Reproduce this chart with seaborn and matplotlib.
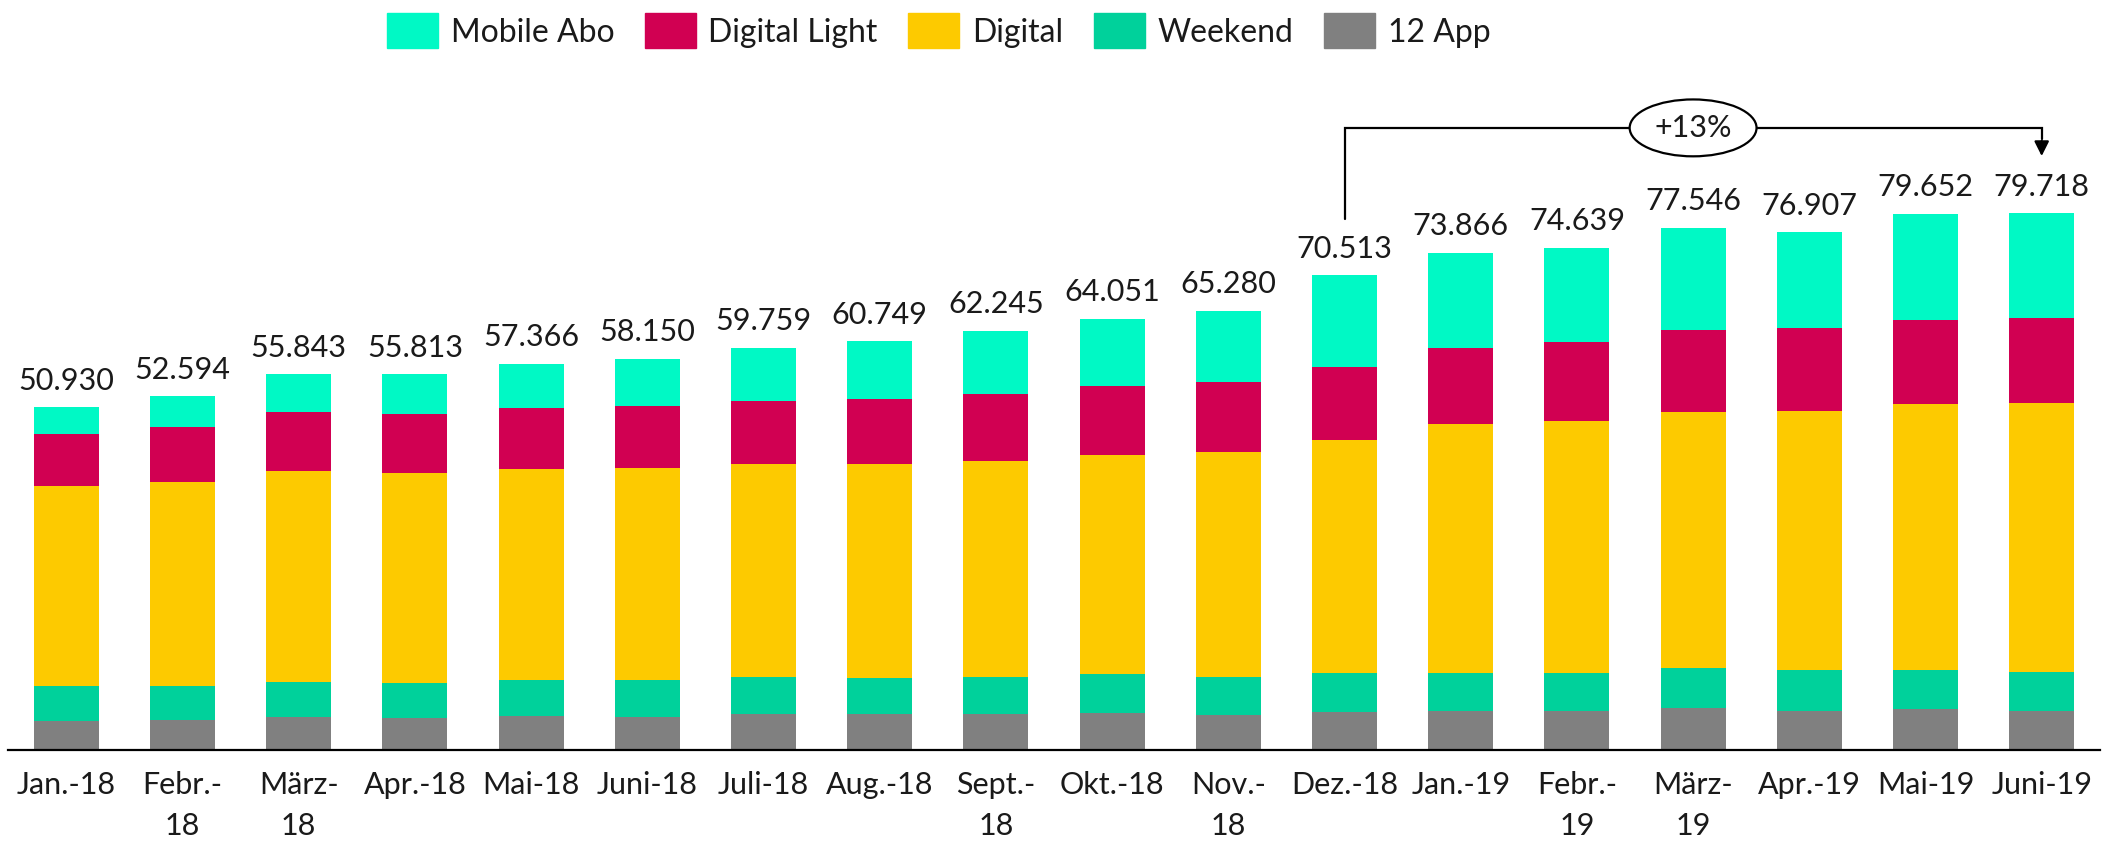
import numpy as np
import pandas as pd
import matplotlib
matplotlib.use("Agg")
import matplotlib.pyplot as plt
import matplotlib.patches as mpatches
import seaborn as sns

# Data (in thousands)
months = ["Jan.-18", "Febr.-\n18", "März-\n18", "Apr.-18", "Mai-18", "Juni-18",
          "Juli-18", "Aug.-18", "Sept.-\n18", "Okt.-18", "Nov.-\n18", "Dez.-18",
          "Jan.-19", "Febr.-\n19", "März-\n19", "Apr.-19", "Mai-19", "Juni-19"]
app_12 = [4.31, 4.41, 4.86, 4.71, 5.10, 4.95, 5.30, 5.36, 5.36, 5.56, 5.15, 5.60,
          5.75, 5.75, 6.29, 5.84, 6.05, 5.84]
weekend = [5.25, 5.14, 5.29, 5.20, 5.30, 5.45, 5.51, 5.36, 5.46, 5.72, 5.77, 5.88,
           5.74, 5.74, 5.85, 6.03, 5.90, 5.79]
digital = [29.63, 30.27, 31.31, 31.29, 31.40, 31.55, 31.62, 31.83, 32.14, 32.50, 33.33, 34.53,
           36.91, 37.40, 38.13, 38.53, 39.42, 39.88]
digital_light = [7.82, 8.12, 8.72, 8.77, 8.97, 9.17, 9.41, 9.57, 9.98, 10.24, 10.35, 10.94,
                 11.38, 11.69, 12.14, 12.23, 12.48, 12.67]
mobile_abo = [3.93, 4.65, 5.66, 5.84, 6.60, 7.03, 7.92, 8.63, 9.31, 10.03, 10.68, 13.56,
              14.09, 14.06, 15.15, 14.28, 15.80, 15.54]
totals = [50930, 52594, 55843, 55813, 57366, 58150, 59759, 60749, 62245, 64051, 65280, 70513,
          73866, 74639, 77546, 76907, 79652, 79718]
growth_label = "+13%"

series = ["12 App", "Weekend", "Digital", "Digital Light", "Mobile Abo"]
colors = {"Mobile Abo": "#00F9C5", "Digital Light": "#D10052", "Digital": "#FDCA00",
          "Weekend": "#00D19B", "12 App": "#808080"}
text_col = "#1a1a1a"

df = pd.DataFrame({"month": months, "12 App": app_12, "Weekend": weekend,
                   "Digital": digital, "Digital Light": digital_light,
                   "Mobile Abo": mobile_abo})
cum = df[series].cumsum(axis=1)

sns.set_style("white")
plt.rcParams["font.family"] = ["Lato", "DejaVu Sans"]
plt.rcParams["text.color"] = text_col

fig = plt.figure(figsize=(21.18, 8.5), dpi=100)
ax = fig.add_axes([0.0039, 0.1176, 0.9875, 0.8118])

# stacked bars: draw cumulative sums from the top layer down
for name in reversed(series):
    sns.barplot(x=df["month"], y=cum[name], color=colors[name], width=0.56,
                linewidth=0, saturation=1, ax=ax)

labels = [f"{t:,}".replace(",", ".") for t in totals]
ax.bar_label(ax.containers[0], labels=labels, padding=9, fontsize=22, color=text_col)

ax.set_xlim(-0.5, len(months) - 0.5)
ax.set_ylim(0, 102.5)
ax.set_xlabel("")
ax.set_ylabel("")
ax.set_yticks([])
sns.despine(ax=ax, left=True)
ax.spines["bottom"].set_color("black")
ax.spines["bottom"].set_linewidth(1.6)
ax.tick_params(axis="x", length=0, pad=15, labelsize=22, labelcolor=text_col)
for lab in ax.get_xticklabels():
    lab.set_linespacing(1.55)
    lab.set_verticalalignment("top")

# growth annotation Dez-18 -> Juni-19
i0, i1 = 11, 17
top_tot = np.array(totals) / 1000
y_line = top_tot.max() + 12.7
ax.plot([i0, i0, i1, i1], [top_tot[i0] + 8.4, y_line, y_line, top_tot[i1] + 11.0],
        color="black", lw=1.6, solid_joinstyle="miter")
ax.annotate("", xy=(i1, top_tot[i1] + 8.1), xytext=(i1, top_tot[i1] + 11.2),
            arrowprops=dict(arrowstyle="-|>", color="black", lw=1.6, mutation_scale=22))
ax.text((i0 + i1) / 2, y_line, growth_label, ha="center", va="center", fontsize=22,
        color=text_col,
        bbox=dict(boxstyle="ellipse,pad=0.2", fc="white", ec="black", lw=1.6))

handles = [mpatches.Patch(color=colors[n], label=n) for n in reversed(series)]
leg = fig.legend(handles=handles, loc="upper left", bbox_to_anchor=(0.169, 1.018), ncol=5,
                 frameon=False, fontsize=23, handlelength=1.6, handleheight=1.3,
                 handletextpad=0.4, columnspacing=0.95)
for t in leg.get_texts():
    t.set_color(text_col)

fig.savefig("out.png", dpi=100)
